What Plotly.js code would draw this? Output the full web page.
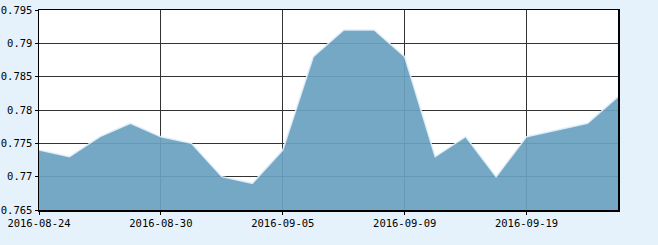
<!DOCTYPE html>
<html>
<head>
<meta charset="utf-8">
<script src="https://cdn.plot.ly/plotly-3.0.1.min.js"></script>
<style>html,body{margin:0;padding:0;background:#e6f2fb;}</style>
</head>
<body>
<div id="chart" style="width:658px;height:245px;"></div>
<script>
const dates = ["2016-08-24","2016-08-25","2016-08-26","2016-08-29","2016-08-30","2016-08-31","2016-09-01","2016-09-02","2016-09-05","2016-09-06","2016-09-07","2016-09-08","2016-09-09","2016-09-12","2016-09-13","2016-09-14","2016-09-19","2016-09-20","2016-09-21","2016-09-22"];
const values = [0.774,0.773,0.776,0.778,0.776,0.775,0.770,0.769,0.774,0.788,0.792,0.792,0.788,0.773,0.776,0.770,0.776,0.777,0.778,0.782];
const yTicks = [0.765,0.77,0.775,0.78,0.785,0.79,0.795];
const yTickText = ["0.765","0.77","0.775","0.78","0.785","0.79","0.795"];

const trace = {
  x: dates, y: values, type: 'scatter', mode: 'lines',
  fill: 'tozeroy',
  fillcolor: 'rgba(106,161,193,0.93)',
  line: {color: 'rgba(225,240,250,0.9)', width: 1.5},
  hoverinfo: 'skip'
};
const layout = {
  width: 658, height: 245,
  margin: {l: 39, r: 40, t: 10, b: 35, pad: 0},
  paper_bgcolor: '#e6f2fb', plot_bgcolor: '#ffffff',
  showlegend: false,
  font: {family: '"DejaVu Sans Mono", monospace', size: 10.5, color: '#000'},
  xaxis: {
    type: 'category', range: [0, dates.length - 1],
    tickmode: 'linear', tick0: 0, dtick: 4,
    ticks: 'outside', ticklen: 3, tickcolor: '#000', tickwidth: 1,
    showgrid: true, gridcolor: '#333333', gridwidth: 1,
    showline: true, linecolor: '#000', linewidth: 1.5, mirror: true,
    zeroline: false, fixedrange: true, automargin: false
  },
  yaxis: {
    range: [0.765, 0.795],
    tickmode: 'array', tickvals: yTicks, ticktext: yTickText,
    ticks: 'outside', ticklen: 3, tickcolor: '#000',
    showgrid: true, gridcolor: '#333333', gridwidth: 1,
    showline: true, linecolor: '#000', linewidth: 1.5, mirror: true,
    zeroline: false, fixedrange: true, automargin: false
  }
};
Plotly.newPlot('chart', [trace], layout, {staticPlot: true, displayModeBar: false});
</script>
</body>
</html>
